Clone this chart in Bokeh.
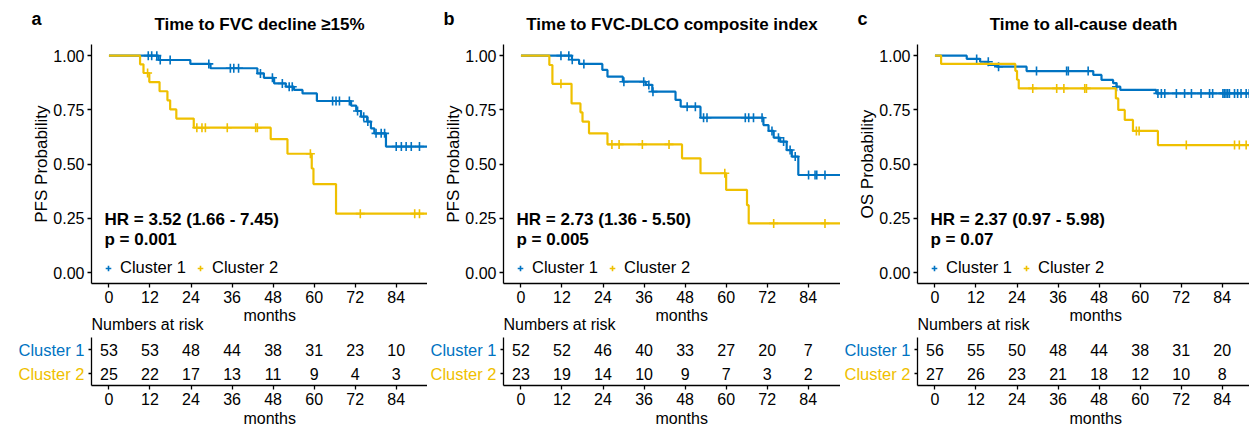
import math
from bokeh.plotting import figure
from bokeh.models import (Label, Legend, LegendItem, FixedTicker, NumeralTickFormatter, Range1d,
                          LinearAxis)
from bokeh.layouts import row
from bokeh.core.properties import value
from bokeh.embed import file_html
from bokeh.resources import INLINE

# ---------------- data ----------------
ticks = [0, 12, 24, 36, 48, 60, 72, 84]
groups = ["Cluster 1", "Cluster 2"]

# Panel a: Time to FVC decline >=15%
a_c1_t = [0, 14.5, 23.8, 29.7, 43.4, 45.3, 48.3, 51.7, 54.1, 56.6, 60.8, 70.8, 72.3, 73.7, 75.5, 76.6, 77.6, 81.0, 93.3]
a_c1_s = [1.0, 0.980, 0.962, 0.942, 0.918, 0.898, 0.872, 0.857, 0.842, 0.826, 0.791, 0.770, 0.745, 0.719, 0.696, 0.665, 0.642, 0.581, 0.581]
a_c1_ct = [11.5, 12.5, 14.0, 15.0, 17.9, 29.2, 35.5, 36.5, 37.9, 44.3, 47.8, 50.7, 52.7, 53.6, 65.4, 66.4, 67.4, 70.3, 72.7, 74.5, 75.7, 78.1, 79.6, 80.6, 84.0, 85.5, 86.9, 88.4, 90.8]
a_c1_cs = [1.0, 1.0, 1.0, 0.980, 0.980, 0.962, 0.942, 0.942, 0.942, 0.918, 0.898, 0.872, 0.857, 0.857, 0.791, 0.791, 0.791, 0.791, 0.745, 0.719, 0.696, 0.642, 0.642, 0.642, 0.581, 0.581, 0.581, 0.581, 0.581]
a_c2_t = [0, 9.1, 10.1, 11.8, 14.8, 17.1, 17.9, 19.7, 24.8, 47.3, 52.2, 59.3, 59.8, 66.4, 93.3]
a_c2_s = [1.0, 0.960, 0.920, 0.878, 0.836, 0.794, 0.752, 0.710, 0.668, 0.615, 0.548, 0.480, 0.408, 0.272, 0.272]
a_c2_ct = [11.3, 25.7, 27.2, 28.2, 34.6, 42.9, 43.4, 58.9, 73.5, 89.4, 90.8]
a_c2_cs = [0.920, 0.668, 0.668, 0.668, 0.668, 0.668, 0.668, 0.548, 0.272, 0.272, 0.272]
a_risk1 = [53, 53, 48, 44, 38, 31, 23, 10]
a_risk2 = [25, 22, 17, 13, 11, 9, 4, 3]

# Panel b: Time to FVC-DLCO composite index
b_c1_t = [0, 14.9, 17.0, 23.8, 25.3, 29.8, 36.5, 38.4, 45.2, 46.7, 52.5, 70.9, 72.4, 73.9, 75.8, 77.7, 79.2, 81.1, 93.4]
b_c1_s = [1.0, 0.981, 0.962, 0.934, 0.903, 0.880, 0.865, 0.834, 0.796, 0.765, 0.714, 0.680, 0.653, 0.622, 0.604, 0.565, 0.535, 0.450, 0.450]
b_c1_ct = [11.7, 14.0, 15.0, 18.4, 30.1, 35.9, 37.4, 38.6, 48.6, 51.0, 53.4, 54.4, 65.6, 66.6, 68.0, 70.5, 73.4, 75.3, 76.8, 78.7, 80.2, 84.1, 86.0, 86.5, 88.9]
b_c1_cs = [1.0, 1.0, 0.981, 0.962, 0.880, 0.880, 0.865, 0.834, 0.765, 0.765, 0.714, 0.714, 0.714, 0.714, 0.714, 0.714, 0.653, 0.622, 0.604, 0.565, 0.535, 0.450, 0.450, 0.450, 0.450]
b_c2_t = [0, 8.3, 9.2, 14.8, 17.4, 18.0, 19.9, 25.3, 47.1, 52.5, 60.0, 66.1, 66.6, 93.4]
b_c2_s = [1.0, 0.957, 0.870, 0.780, 0.739, 0.696, 0.642, 0.591, 0.527, 0.458, 0.381, 0.311, 0.227, 0.227]
b_c2_ct = [11.7, 26.6, 28.7, 35.5, 43.3, 59.6, 73.9, 88.9]
b_c2_cs = [0.870, 0.591, 0.591, 0.591, 0.591, 0.458, 0.227, 0.227]
b_risk1 = [52, 52, 46, 40, 33, 27, 20, 7]
b_risk2 = [23, 19, 14, 10, 9, 7, 3, 2]

# Panel c: Time to all-cause death
c_c1_t = [0, 9.3, 13.2, 15.6, 18.1, 26.8, 46.3, 48.7, 52.1, 53.1, 54.2, 64.7, 92.0]
c_c1_s = [1.0, 0.985, 0.972, 0.957, 0.949, 0.929, 0.911, 0.888, 0.873, 0.857, 0.842, 0.826, 0.826]
c_c1_ct = [12.2, 15.6, 18.6, 29.7, 38.5, 39.0, 44.8, 53.1, 65.2, 66.2, 67.2, 70.6, 73.0, 75.0, 77.8, 80.3, 81.2, 84.2, 84.6, 85.1, 85.6, 86.1, 87.6, 88.5, 89.5, 91.0, 91.9]
c_c1_cs = [0.985, 0.972, 0.949, 0.929, 0.929, 0.929, 0.929, 0.857] + [0.826] * 19
c_c2_t = [0, 1.8, 23.5, 24.0, 24.5, 52.9, 53.6, 55.5, 57.9, 65.2, 92.0]
c_c2_s = [1.0, 0.962, 0.930, 0.889, 0.849, 0.803, 0.750, 0.704, 0.653, 0.588, 0.588]
c_c2_ct = [28.6, 35.6, 37.7, 43.8, 44.3, 58.9, 59.7, 73.5, 87.6, 89.0, 91.0]
c_c2_cs = [0.849, 0.849, 0.849, 0.849, 0.849, 0.653, 0.653, 0.588, 0.588, 0.588, 0.588]
c_risk1 = [56, 55, 50, 48, 44, 38, 31, 20]
c_risk2 = [27, 26, 23, 21, 18, 12, 10, 8]

# ---------------- style / layout constants ----------------
BLUE = "#0073C2"
YELLOW = "#EFC000"
FONT = "Liberation Sans"
H = 426                  # canvas height (px)
X0 = -5.1                # left limit of the survival panel (months)
PXM = 3.42               # px per month
KM_PX = 217.0            # px per unit survival
KM_BOTTOM_PX = 283.0     # canvas y of survival = -0.05
RISK_PX = 24.0           # px per risk-table row
RISK_BOTTOM_PX = 385.0   # canvas y of risk row 0.5


def style_axis(ax):
    ax.axis_line_color = "black"
    ax.axis_line_width = 1.3
    ax.major_tick_line_color = "black"
    ax.major_tick_line_width = 1.3
    ax.major_tick_out = 4
    ax.major_tick_in = 0
    ax.minor_tick_line_color = None
    ax.major_label_text_font = FONT
    ax.major_label_text_font_size = "16px"
    ax.major_label_text_color = "black"
    ax.major_label_standoff = 3


def txt(x, y, text, size="16px", bold=False, color="black", align="left", angle=0.0, yr="default"):
    return Label(x=x, y=y, text=text, text_font=FONT, text_font_size=size,
                 text_font_style="bold" if bold else "normal", text_color=color,
                 text_align=align, text_baseline="middle", angle=angle, y_range_name=yr)


def panel(letter, title, ylabel, hr, pval, c1t, c1s, c1ct, c1cs, c2t, c2s, c2ct, c2cs,
          risk1, risk2, width, left_px):
    x_start = X0 - left_px / PXM
    x_end = x_start + width / PXM
    y_top = -0.05 + KM_BOTTOM_PX / KM_PX
    y_bot = -0.05 - (H - KM_BOTTOM_PX) / KM_PX
    r_bot = 0.5 - (H - RISK_BOTTOM_PX) / RISK_PX
    r_top = 0.5 + RISK_BOTTOM_PX / RISK_PX

    p = figure(width=width, height=H, x_range=Range1d(x_start, x_end), y_range=Range1d(y_bot, y_top),
               output_backend="svg", toolbar_location=None, x_axis_location=None, y_axis_location=None,
               min_border=0, min_border_left=0, min_border_right=0, min_border_top=0, min_border_bottom=0)
    p.extra_y_ranges = {"risk": Range1d(r_bot, r_top)}
    p.title.visible = False
    p.outline_line_color = None
    p.grid.visible = False

    # survival axes
    kx = LinearAxis(fixed_location=-0.05, bounds=(X0, x_end), ticker=FixedTicker(ticks=ticks))
    style_axis(kx)
    p.add_layout(kx, "below")
    ky = LinearAxis(fixed_location=X0, bounds=(-0.05, 1.05),
                    ticker=FixedTicker(ticks=[0, 0.25, 0.5, 0.75, 1.0]),
                    formatter=NumeralTickFormatter(format="0.00"))
    style_axis(ky)
    p.add_layout(ky, "left")

    # risk table axes
    rx = LinearAxis(fixed_location=0.5, y_range_name="risk", bounds=(X0, x_end),
                    ticker=FixedTicker(ticks=ticks))
    style_axis(rx)
    p.add_layout(rx, "below")
    ry = LinearAxis(fixed_location=X0, y_range_name="risk", bounds=(0.5, 2.5),
                    ticker=FixedTicker(ticks=[1, 2]))
    style_axis(ry)
    ry.major_tick_out = 3
    ry.major_label_overrides = {1: "", 2: ""}
    p.add_layout(ry, "left")

    # curves
    p.step(c1t, c1s, mode="after", line_color=BLUE, line_width=2.2)
    r1 = p.scatter(c1ct, c1cs, marker="cross", size=9, line_color=BLUE, line_width=1.6)
    p.step(c2t, c2s, mode="after", line_color=YELLOW, line_width=2.2)
    r2 = p.scatter(c2ct, c2cs, marker="cross", size=9, line_color=YELLOW, line_width=1.6)

    leg = Legend(items=[LegendItem(label=groups[0], renderers=[r1]),
                        LegendItem(label=groups[1], renderers=[r2])],
                 orientation="horizontal", location=(left_px + 10, H - KM_BOTTOM_PX + 6),
                 padding=0, margin=0, spacing=7, glyph_width=14, glyph_height=18,
                 label_standoff=5, label_height=18,
                 label_text_font=FONT, label_text_font_size="16.5px", label_text_color="black",
                 border_line_color=None, background_fill_alpha=0)
    p.add_layout(leg)

    # texts
    p.add_layout(txt((X0 + x_end) / 2, y_top - 24 / KM_PX, title, size="17px", bold=True, align="center"))
    p.add_layout(txt(X0 - 60 / PXM, y_top - 18 / KM_PX, letter, size="18px", bold=True))
    p.add_layout(txt(X0 - 50 / PXM, 0.5, ylabel, size="17px", align="center", angle=math.pi / 2))
    p.add_layout(txt(-1.3, 0.244, hr, size="17px", bold=True))
    p.add_layout(txt(-1.3, 0.152, pval, size="17px", bold=True))
    p.add_layout(txt(47, -0.05 - 32 / KM_PX, "months", align="center"))
    p.add_layout(txt(X0, -0.05 - 41 / KM_PX, "Numbers at risk"))

    # risk table
    p.text(x=ticks + ticks, y=[2] * len(ticks) + [1] * len(ticks),
           text=[str(v) for v in risk1] + [str(v) for v in risk2], y_range_name="risk",
           text_font=value(FONT), text_font_size="16px", text_align="center",
           text_baseline="middle", text_color="black")
    p.add_layout(txt(X0 - 7 / PXM, 2, groups[0], size="16.5px", color=BLUE, align="right", yr="risk"))
    p.add_layout(txt(X0 - 7 / PXM, 1, groups[1], size="16.5px", color=YELLOW, align="right", yr="risk"))
    p.add_layout(txt(47, 0.5 - 33 / RISK_PX, "months", align="center", yr="risk"))
    return p


pa = panel("a", "Time to FVC decline \u226515%", "PFS Probability", "HR = 3.52 (1.66 - 7.45)", "p = 0.001",
           a_c1_t, a_c1_s, a_c1_ct, a_c1_cs, a_c2_t, a_c2_s, a_c2_ct, a_c2_cs, a_risk1, a_risk2,
           427, 91)
pb = panel("b", "Time to FVC-DLCO composite index", "PFS Probability", "HR = 2.73 (1.36 - 5.50)", "p = 0.005",
           b_c1_t, b_c1_s, b_c1_ct, b_c1_cs, b_c2_t, b_c2_s, b_c2_ct, b_c2_cs, b_risk1, b_risk2,
           413, 76)
pc = panel("c", "Time to all-cause death", "OS Probability", "HR = 2.37 (0.97 - 5.98)", "p = 0.07",
           c_c1_t, c_c1_s, c_c1_ct, c_c1_cs, c_c2_t, c_c2_s, c_c2_ct, c_c2_cs, c_risk1, c_risk2,
           409, 77)

layout = row(pa, pb, pc)
open("out.html", "w").write(file_html(layout, INLINE))
